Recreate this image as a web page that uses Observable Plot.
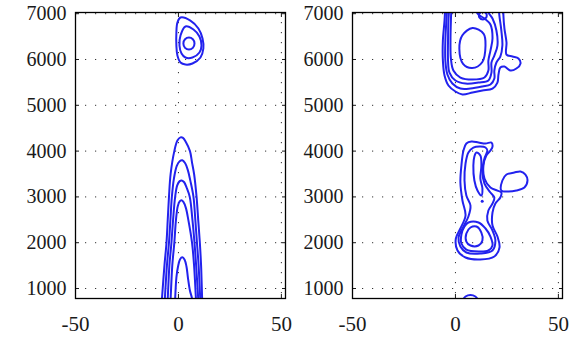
<!DOCTYPE html>
<html><head><meta charset="utf-8">
<script src="https://cdn.jsdelivr.net/npm/d3@7"></script>
<script src="https://cdn.jsdelivr.net/npm/@observablehq/plot@0.6"></script>
<style>
html,body{margin:0;padding:0;background:#fff;overflow:hidden}
#wrap{display:flex;width:574px;height:337px}
#wrap svg{overflow:visible;background:transparent}
</style></head><body><div id="wrap"></div>
<script>
const xTicks = [-50, 0, 50];
const yTicks = [1000, 2000, 3000, 4000, 5000, 6000, 7000];

// ---- left panel: closed contours (top blob)
const leftTop1 = [[1,6916],[5.8,6850],[9.7,6676],[11.7,6458],[12.1,6240],[10.7,6043],[6.8,5912],[3.4,5890],[1,5934],[-0.5,6087],[-1,6305],[-1,6589],[-0.5,6807]];
const leftTop2 = [[3.4,6720],[7.3,6654],[10.2,6501],[11.2,6305],[10.2,6152],[6.8,6043],[3.4,6043],[1.5,6130],[0.5,6305],[1,6523]];
const leftTop3 = [[5.1,6479],[7.0,6441],[7.8,6348],[7.0,6255],[5.1,6217],[3.2,6255],[2.4,6348],[3.2,6441]];
// ---- left panel: open arches (cut by bottom edge)
const leftArch1 = [[-8.2,650],[-8.0,782],[-6.8,1500],[-5.8,2000],[-5.2,2500],[-4.6,3000],[-3.8,3500],[-2.0,4000],[-0.5,4230],[1.0,4300],[2.2,4290],[3.6,4200],[5.6,4000],[6.6,3750],[7.6,3500],[8.8,3000],[9.6,2500],[10.4,2000],[11.0,1500],[11.5,782],[11.6,650]];
const leftArch2 = [[-6.8,650],[-6.6,782],[-5.6,1500],[-4.6,2000],[-3.9,2500],[-3.2,3000],[-2.2,3400],[-0.8,3680],[0.6,3780],[1.9,3800],[3.2,3740],[4.6,3580],[5.8,3350],[7.3,3000],[8.2,2500],[9.0,2000],[9.8,1500],[10.6,782],[10.8,650]];
const leftArch3 = [[-5.4,650],[-5.2,782],[-4.4,1500],[-3.4,2000],[-2.6,2500],[-1.6,3000],[-0.6,3250],[0.6,3345],[1.6,3360],[2.8,3320],[4.0,3200],[5.5,3000],[6.8,2500],[7.8,2000],[8.6,1500],[9.6,782],[9.8,650]];
const leftArch4 = [[-4.0,650],[-3.8,782],[-3.0,1500],[-2.0,2000],[-1.2,2500],[-0.3,2800],[0.6,2900],[1.4,2925],[2.4,2890],[3.6,2760],[4.8,2500],[6.6,2000],[7.6,1500],[8.5,782],[8.7,650]];
const leftArch5 = [[-1.8,650],[-1.6,782],[-1.0,1240],[-0.2,1480],[0.8,1640],[1.9,1680],[3.0,1630],[3.9,1480],[4.6,1240],[5.6,950],[6.6,782],[6.8,650]];

// ---- right panel: top blob (open, cut by top edge)
const rightTop1 = [[-4.9,7178],[-5.3,6850],[-6.1,6414],[-6.1,5977],[-5.3,5650],[-3.4,5432],[0,5301],[3.4,5236],[8.3,5279],[13.1,5322],[18.0,5366],[20.4,5497],[20.9,5672],[21.8,5824],[23.8,5846],[26.7,5759],[29.6,5803],[31.6,5912],[30.6,6021],[27.7,6065],[24.8,6108],[24.8,6370],[23.8,6676],[23.3,6960],[23.3,7178]];
const rightTop2 = [[-3.9,7178],[-4.4,6850],[-4.9,6414],[-4.9,5977],[-3.9,5672],[-1.5,5475],[2.4,5366],[7.3,5366],[13.1,5410],[17.0,5453],[18.9,5584],[18.9,5759],[19.9,5934],[21.8,6065],[22.8,6305],[22.3,6632],[21.4,6938],[20.9,7178]];
const rightTop3 = [[-2.9,7178],[-3.4,6850],[-3.6,6414],[-3.6,5977],[-2.9,5715],[0,5541],[4.9,5475],[11.2,5497],[16.0,5541],[17.5,5715],[17.5,5934],[18.9,6086],[20.4,6305],[19.9,6632],[18.0,6894],[16.0,7025],[15.0,7178]];
const rightTop4 = [[-1.9,7178],[-2.2,6850],[-2.4,6414],[-2.2,6021],[-1.0,5759],[2.4,5606],[8.3,5562],[14.1,5606],[16.0,5759],[16.0,5977],[17.0,6195],[18.0,6458],[17.0,6763],[14.1,6894],[11.2,6981],[9.2,7112],[8.3,7178]];
// right panel: closed rings
const rightTopInner = [[8.3,6687],[13.7,6560],[14.6,6305],[13.0,5940],[8.1,5814],[3.7,5905],[1.9,6233],[3.3,6523]];
const rightTopLoop = [[13.3,7047],[15.0,7000],[15.2,6960],[15.0,6920],[13.3,6873],[11.6,6920],[11.4,6960],[11.6,7000]];
const rightMid1 = [[7.8,4209],[11.2,4187],[14.6,4165],[17.5,4187],[18.0,4100],[17.0,4013],[15.0,3903],[13.6,3685],[14.1,3401],[17.0,3205],[20.4,3139],[22.3,3096],[21.8,2987],[19.4,2856],[18.0,2659],[18.0,2375],[20.4,2135],[21.4,1895],[18.9,1699],[12.1,1633],[4.9,1677],[1.0,1830],[0.2,2092],[2.4,2310],[4.9,2594],[3.4,2921],[2.4,3314],[2.9,3685],[3.9,4013],[5.3,4165]];
const rightMid2 = [[8.7,4078],[12.1,4100],[14.6,4078],[15.5,4013],[14.1,3838],[13.1,3576],[14.1,3292],[17.0,3096],[18.9,2987],[18.0,2856],[16.0,2703],[15.5,2484],[18.0,2266],[19.4,2048],[18.0,1830],[12.1,1764],[5.3,1786],[2.4,1917],[1.5,2113],[3.4,2310],[6.3,2572],[7.3,2812],[5.3,3030],[4.4,3358],[4.9,3729],[6.3,3969]];
const rightMidUpper3 = [[10.2,3969],[12.1,3903],[12.6,3685],[12.1,3401],[13.1,3183],[12.6,3030],[10.7,3139],[9.2,3358],[8.7,3685],[9.2,3882]];
const rightMidLower3 = [[6.3,2441],[11.2,2441],[14.6,2310],[17.0,2135],[18.0,1939],[16.0,1830],[11.2,1808],[5.3,1851],[2.9,1982],[2.9,2179],[4.4,2353]];
const rightMidLower4 = [[7.3,2332],[10.2,2353],[12.6,2222],[13.1,2048],[11.2,1939],[7.3,1939],[5.3,2026],[5.3,2201]];
const rightSideBlob = [[22.3,3139],[22.8,3358],[24.8,3489],[28.6,3532],[31.6,3554],[34.0,3489],[35.0,3358],[33.5,3205],[29.6,3139],[25.7,3117]];
const rightDots = [[13.0,2906]];
// right panel: arc cut by bottom edge
const rightBottomArc = [[3.4,738],[4.9,825],[7.3,858],[9.7,825],[11.2,738]];

const blue = "#2222ee";
const rows = (groups) => groups.flatMap((g, i) => g.map(([x, y]) => ({x, y, id: i})));
const fmt = d => String(d);

function panel({closed, open, dots, marginLeft, marginRight}) {
  const gridStyle = {stroke: "#333", strokeOpacity: 1, strokeWidth: 1, strokeDasharray: "1.2,8.8"};
  return Plot.plot({
    width: 287, height: 337,
    marginTop: 12, marginBottom: 39, marginLeft, marginRight,
    x: {domain: [-50, 52], label: null},
    y: {domain: [782, 7026], label: null},
    style: {fontFamily: "'Liberation Serif','Times New Roman',serif", fontSize: "20px", color: "#1a1a1a", background: "transparent", overflow: "visible"},
    marks: [
      Plot.gridX(xTicks, gridStyle),
      Plot.gridY(yTicks, gridStyle),
      Plot.line(rows(closed), {x: "x", y: "y", z: "id", curve: "catmull-rom-closed", stroke: blue, strokeWidth: 2, clip: true}),
      Plot.line(rows(open), {x: "x", y: "y", z: "id", curve: "catmull-rom", stroke: blue, strokeWidth: 2, clip: true}),
      Plot.dot(dots, {x: d => d[0], y: d => d[1], r: 1.5, fill: blue, stroke: null}),
      Plot.axisX(xTicks, {anchor: "bottom", tickSize: 0, tickPadding: 18, label: null, fontSize: 21, tickFormat: fmt}),
      Plot.axisY(yTicks, {anchor: "left", tickSize: 0, tickPadding: 9, label: null, fontSize: 20, tickFormat: fmt}),
      Plot.axisX(xTicks, {anchor: "bottom", tickSize: -4, text: null, label: null}),
      Plot.axisX(xTicks, {anchor: "top", tickSize: -4, text: null, label: null}),
      Plot.axisY(yTicks, {anchor: "left", tickSize: -4, text: null, label: null}),
      Plot.axisY(yTicks, {anchor: "right", tickSize: -4, text: null, label: null}),
      Plot.frame({stroke: "#000", strokeWidth: 1.3})
    ]
  });
}

const wrap = document.getElementById("wrap");
wrap.appendChild(panel({
  closed: [leftTop1, leftTop2, leftTop3],
  open: [leftArch1, leftArch2, leftArch3, leftArch4, leftArch5],
  dots: [], marginLeft: 75, marginRight: 2
}));
wrap.appendChild(panel({
  closed: [rightTopInner, rightTopLoop, rightMid1, rightMid2, rightMidUpper3, rightMidLower3, rightMidLower4, rightSideBlob],
  open: [rightTop1, rightTop2, rightTop3, rightTop4, rightBottomArc],
  dots: rightDots, marginLeft: 65, marginRight: 12
}));
</script></body></html>
